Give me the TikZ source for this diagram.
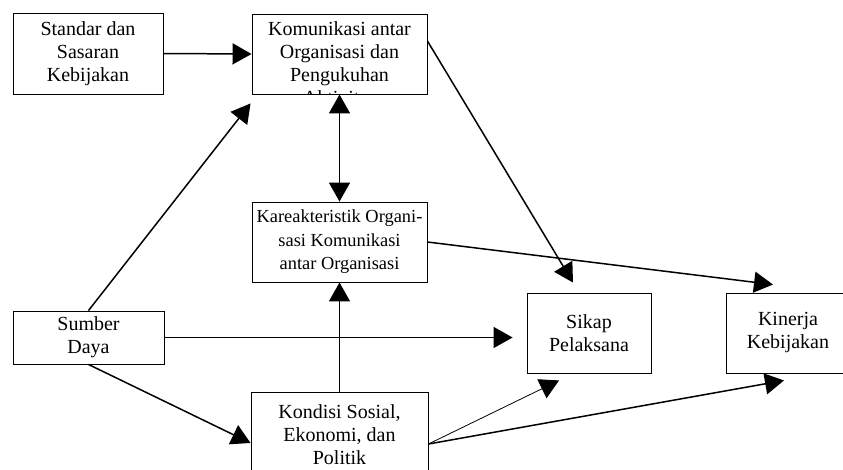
\documentclass[tikz,border=0pt]{standalone}
\usepackage{fontspec}
\setmainfont{Liberation Serif}
\usetikzlibrary{arrows.meta}
\tikzset{
  faktor/.style={draw, line width=0.9pt, inner sep=2pt, align=center, font=\fontsize{20}{23}\selectfont},
  link/.style={-{Triangle[length=19pt, width=21pt]}, line width=1.5pt},
  thinlink/.style={-{Triangle[length=19pt, width=21pt]}, line width=0.8pt}
}

\begin{document}
\begin{tikzpicture}[x=1pt,y=-1pt]
  \clip (0,0) rectangle (843,469);
  \node[faktor, minimum width=150pt, minimum height=81pt] (std) at (88,53.5) {Standar dan\\Sasaran\\Kebijakan};
  \node[faktor, minimum width=175pt, minimum height=80pt,
    path picture={\node[anchor=north, inner sep=0pt, align=center, font=\fontsize{20}{23}\selectfont]
      at ([yshift=-7pt]path picture bounding box.north) {Komunikasi antar\\Organisasi dan\\Pengukuhan\\Aktivitas};}] (kom) at (339.5,54) {};
  \node[faktor, minimum width=175pt, minimum height=80pt, inner xsep=1pt, font=\fontsize{18.4}{23.5}\selectfont] (kar) at (339.5,242) {Kareakteristik Organi-\\sasi Komunikasi\\antar Organisasi};
  \node[faktor, minimum width=151pt, minimum height=53pt] (sum) at (88.5,337.5) {Sumber\\Daya};
  \node[faktor, minimum width=177pt, minimum height=86pt] (kon) at (339.5,435) {Kondisi Sosial,\\Ekonomi, dan\\Politik};
  \node[faktor, minimum width=124pt, minimum height=80pt] (sik) at (589,333) {Sikap\\Pelaksana};
  \node[faktor, minimum width=124pt, minimum height=80pt] (kin) at (788,333) {Kinerja\\Kebijakan};

  \draw[link] (std.east) -- (kom.west);
  \draw[link] (sum.north) -- ([xshift=-1pt,yshift=-9pt]kom.south west);
  \draw[{Triangle[length=19pt, width=21pt]}-{Triangle[length=19pt, width=21pt]}, line width=1.5pt] (kom.south) -- (kar.north);
  \draw[link] (kon.north) -- (kar.south);
  \draw[link] ([yshift=13pt]kom.east) -- ([xshift=-16pt,yshift=10pt]sik.north);
  \draw[link] (kar.east) -- ([xshift=-15pt,yshift=8pt]kin.north);
  \draw[link, shorten >=14pt] (sum.east) -- (sum.east -| sik.west);
  \draw[link] (sum.south) -- ([yshift=-8pt]kon.west);
  \draw[thinlink] ([yshift=-9pt]kon.east) -- ([xshift=-30pt,yshift=-7pt]sik.south);
  \draw[link] ([yshift=-9pt]kon.east) -- ([xshift=-4pt,yshift=-7pt]kin.south);
\end{tikzpicture}
\end{document}
